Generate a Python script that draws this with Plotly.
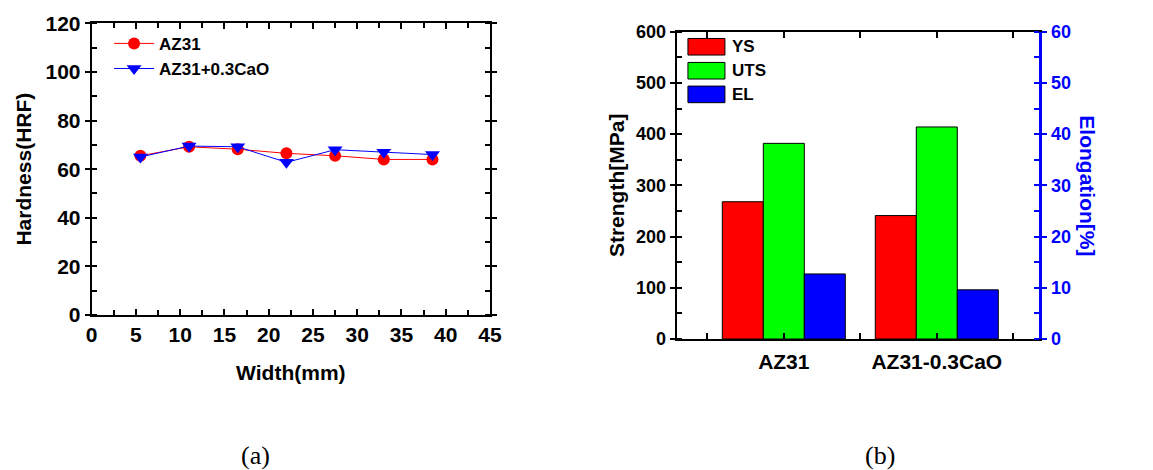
import plotly.graph_objects as go

# ---- (a) hardness profile across the width ----
width_mm = [5.5, 11, 16.5, 22, 27.5, 33, 38.5]
hard_az31 = [65.5, 69.2, 68.2, 66.5, 65.5, 64.0, 64.0]
hard_cao = [65.0, 69.5, 69.2, 62.8, 68.0, 67.0, 66.0]

# ---- (b) tensile properties ----
alloys = ["AZ31", "AZ31-0.3CaO"]
ys_mpa = [268, 241]
uts_mpa = [382, 414]
el_pct = [12.7, 9.6]

W, H = 1153, 470
FONT = "Liberation Sans"
BLACK = "#000000"
BLUE = "#0000FF"

fig = go.Figure()

fig.add_trace(go.Scatter(
    x=width_mm, y=hard_az31, name="AZ31", mode="lines+markers",
    line=dict(color="#FF0000", width=1),
    marker=dict(symbol="circle", size=12, color="#FF0000"),
    xaxis="x", yaxis="y", legend="legend"))
fig.add_trace(go.Scatter(
    x=width_mm, y=hard_cao, name="AZ31+0.3CaO", mode="lines+markers",
    line=dict(color=BLUE, width=1),
    marker=dict(symbol="triangle-down", size=13, color=BLUE),
    xaxis="x", yaxis="y", legend="legend"))

# grouped bars placed around category positions 1 and 2
cat_pos = [1, 2]
bar_w = 0.268
bar_series = [
    ("YS", ys_mpa, "#FF0000", "y2"),
    ("UTS", uts_mpa, "#00FF00", "y2"),
    ("EL", el_pct, BLUE, "y3"),
]
for i, (name, vals, col, ax) in enumerate(bar_series):
    fig.add_trace(go.Bar(
        x=cat_pos, y=vals, name=name, width=bar_w,
        offset=-1.5 * bar_w + i * bar_w,
        marker=dict(color=col, line=dict(color=BLACK, width=1)),
        xaxis="x2", yaxis=ax, showlegend=False))

tick_l = dict(family=FONT, size=21, color=BLACK, weight="bold")
tick_r = dict(family=FONT, size=18, color=BLACK, weight="bold")
title_f = dict(family=FONT, size=21, color=BLACK, weight="bold")

L_X0, L_X1 = 91.7 / W, 490 / W
L_Y0, L_Y1 = 1 - 315 / H, 1 - 23.3 / H
R_X0, R_X1 = 676.7 / W, 1039.3 / W
R_Y0, R_Y1 = 1 - 339 / H, 1 - 31.7 / H

axis_common = dict(showline=True, linecolor=BLACK, linewidth=2,
                   showgrid=False, zeroline=False, automargin=False,
                   tickcolor=BLACK, tickwidth=2)

fig.update_layout(
    width=W, height=H,
    margin=dict(l=0, r=0, t=0, b=0),
    paper_bgcolor="white", plot_bgcolor="white",
    barmode="overlay",
    xaxis=dict(domain=[L_X0, L_X1], range=[0, 45], dtick=5, tick0=0,
               ticks="inside", ticklen=6, mirror="ticks",
               minor=dict(dtick=2.5, ticks="inside", ticklen=5,
                          tickcolor=BLACK, tickwidth=2),
               tickfont=tick_l,
               title=dict(text="Width(mm)", font=title_f, standoff=20),
               anchor="y", **axis_common),
    yaxis=dict(domain=[L_Y0, L_Y1], range=[0, 120], dtick=20, tick0=0,
               ticks="outside", ticklen=5, mirror="ticks",
               minor=dict(dtick=10, ticks="inside", ticklen=5,
                          tickcolor=BLACK, tickwidth=2),
               tickfont=tick_l,
               title=dict(text="Hardness(HRF)", font=title_f, standoff=8),
               anchor="x", **axis_common),
    xaxis2=dict(domain=[R_X0, R_X1], range=[0.3, 2.67],
                tickmode="array", tickvals=cat_pos, ticktext=alloys,
                ticks="inside", ticklen=6, mirror="ticks",
                minor=dict(tickmode="array", tickvals=[0.5, 1.5, 2.5],
                           ticks="inside", ticklen=6,
                           tickcolor=BLACK, tickwidth=2),
                tickfont=tick_l, ticklabelstandoff=3,
                anchor="y2", **axis_common),
    yaxis2=dict(domain=[R_Y0, R_Y1], range=[0, 600], dtick=100, tick0=0,
                ticks="outside", ticklen=5,
                minor=dict(dtick=50, ticks="inside", ticklen=5,
                           tickcolor=BLACK, tickwidth=2),
                tickfont=tick_r,
                title=dict(text="Strength[MPa]", font=title_f, standoff=6),
                anchor="x2", **axis_common),
    yaxis3=dict(domain=[R_Y0, R_Y1], range=[0, 60], dtick=10, tick0=0,
                overlaying="y2", side="right", anchor="x2",
                showline=True, linecolor=BLUE, linewidth=3,
                showgrid=False, zeroline=False, automargin=False,
                ticks="outside", ticklen=5, tickcolor=BLUE, tickwidth=2,
                minor=dict(dtick=5, ticks="inside", ticklen=5,
                           tickcolor=BLUE, tickwidth=2),
                tickfont=dict(family=FONT, size=18, color=BLUE, weight="bold")),
    legend=dict(x=0.0946, y=0.945, xanchor="left", yanchor="top",
                bgcolor="rgba(0,0,0,0)", borderwidth=0,
                font=dict(family=FONT, size=17, color=BLACK, weight="bold"),
                tracegroupgap=0, itemwidth=40),
)

# right-hand axis title reads top-to-bottom
fig.add_annotation(text="Elongation[%]", textangle=90,
                   x=1088 / W, y=(R_Y0 + R_Y1) / 2, xref="paper", yref="paper",
                   xanchor="center", yanchor="middle", showarrow=False,
                   font=dict(family=FONT, size=21, color=BLUE, weight="bold"))

# legend for the bar panel: swatch + label per series
row_y = [0.951, 0.873, 0.796]
for (name, _, col, _), ry in zip(bar_series, row_y):
    fig.add_shape(type="rect", xref="x2 domain", yref="y2 domain",
                  x0=0.031, x1=0.133, y0=ry - 0.027, y1=ry + 0.027,
                  fillcolor=col, line=dict(color=BLACK, width=1))
    fig.add_annotation(text=name, xref="x2 domain", yref="y2 domain",
                       x=0.148, y=ry, xanchor="left", yanchor="middle",
                       showarrow=False,
                       font=dict(family=FONT, size=17, color=BLACK, weight="bold"))

# panel captions
for txt, cx in (("(a)", 255 / W), ("(b)", 880 / W)):
    fig.add_annotation(text=txt, x=cx, y=1 - 455 / H, xref="paper", yref="paper",
                       xanchor="center", yanchor="middle", showarrow=False,
                       font=dict(family="Liberation Serif", size=26, color=BLACK))

fig.write_html("out.html")
